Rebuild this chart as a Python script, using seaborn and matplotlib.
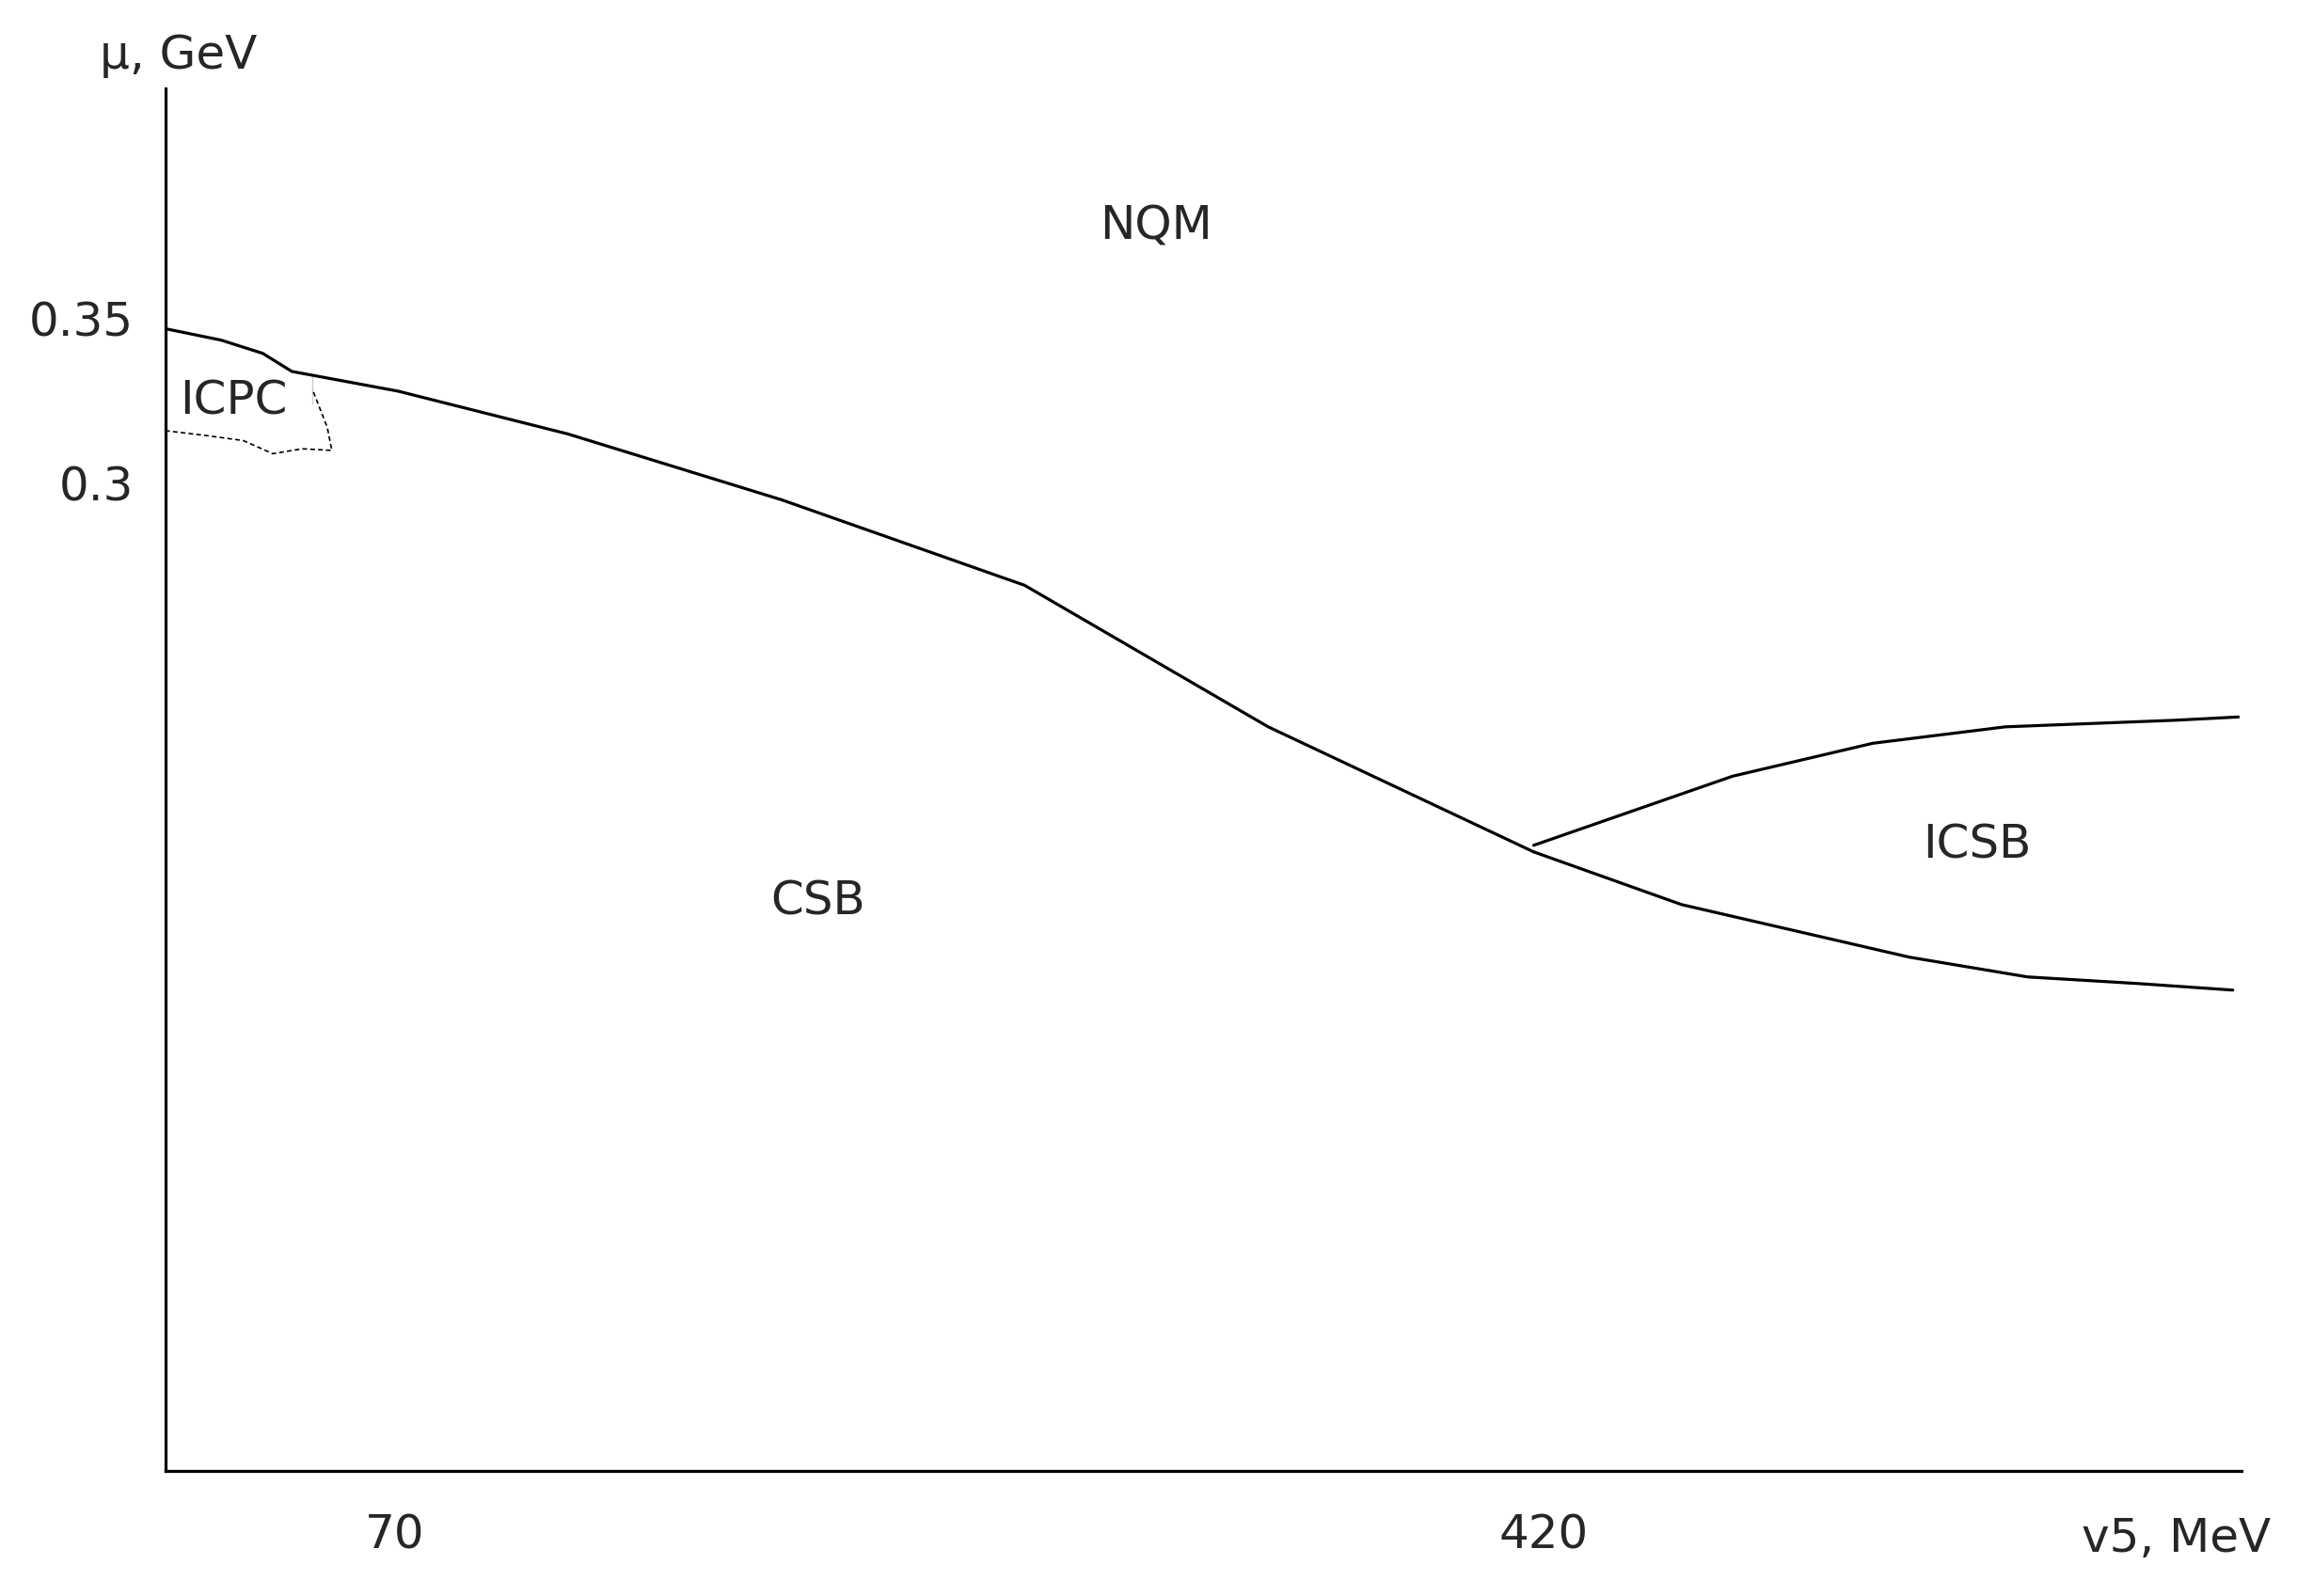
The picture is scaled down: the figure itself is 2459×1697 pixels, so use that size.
import pandas as pd
import matplotlib
matplotlib.use('Agg')
import matplotlib.pyplot as plt
import seaborn as sns

# phase boundary: CSB / NQM
main_x = [0, 17.1, 29.7, 38.6, 71.0, 122.7, 187.8, 261.9, 336.1, 417.0]
main_y = [0.347, 0.3435, 0.3395, 0.334, 0.328, 0.315, 0.295, 0.269, 0.226, 0.188]
# lower ICSB branch
low_x = [417.0, 462.0, 531.5, 567.5, 601.0, 630.0]
low_y = [0.188, 0.172, 0.156, 0.150, 0.148, 0.146]
# upper ICSB branch
up_x = [417.0, 477.6, 520.3, 560.7, 612.4, 631.7]
up_y = [0.190, 0.211, 0.221, 0.226, 0.228, 0.229]
# ICPC dashed region
icpc_x = [0, 12.6, 23.8, 32.8, 41.8, 50.8, 49.4, 44.9, 44.9]
icpc_y = [0.316, 0.3145, 0.313, 0.309, 0.3105, 0.310, 0.317, 0.324, 0.333]

sns.set_style('white')
plt.rcParams['font.family'] = ['DejaVu Sans']

fig = plt.figure(figsize=(24.59, 16.97), dpi=100)
ax = fig.add_axes([0.0714, 0.0786, 0.8976, 0.866])

for xs, ys in [(main_x, main_y), (low_x, low_y), (up_x, up_y)]:
    sns.lineplot(x=xs, y=ys, sort=False, color='black', linewidth=2.3, ax=ax)
sns.lineplot(x=icpc_x, y=icpc_y, sort=False, color='black', linewidth=1.2,
             linestyle=(0, (3, 2)), ax=ax)

ax.set_xlim(0, 632.6)
ax.set_ylim(0, 0.42)
ax.set_xticks([70, 420])
ax.set_xticklabels(['70', '420'])
ax.set_yticks([0.207, 0.3, 0.35])
ax.set_yticklabels(['', '0.3', '0.35'])
ax.tick_params(axis='both', labelsize=36, length=12, width=2, direction='inout', pad=18)
ax.tick_params(axis='x', pad=26)
for s in ['top', 'right']:
    ax.spines[s].set_visible(False)
for s in ['left', 'bottom']:
    ax.spines[s].set_linewidth(2.3)
    ax.spines[s].set_color('black')

ax.text(302, 0.378, 'NQM', fontsize=36, ha='center', va='center')
ax.text(199, 0.173, 'CSB', fontsize=36, ha='center', va='center')
ax.text(552, 0.190, 'ICSB', fontsize=36, ha='center', va='center')
ax.text(21, 0.325, 'ICPC', fontsize=36, ha='center', va='center')
fig.text(0.077, 0.965, 'μ, GeV', fontsize=36, ha='center', va='center')
fig.text(0.941, 0.036, 'v5, MeV', fontsize=36, ha='center', va='center')

fig.savefig('out.png', dpi=100)
